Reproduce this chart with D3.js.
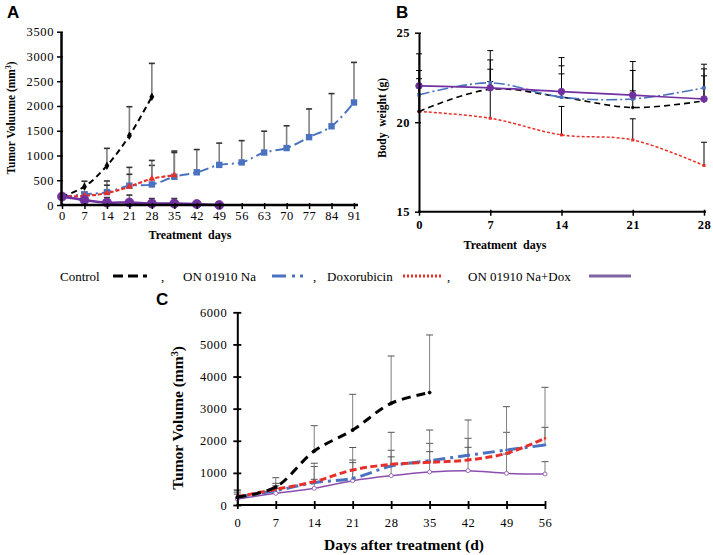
<!DOCTYPE html>
<html><head><meta charset="utf-8">
<script src="https://cdn.jsdelivr.net/npm/d3@7"></script>
<style>
body{margin:0;background:#fff}
svg{display:block}
text{font-family:"Liberation Serif","Times New Roman",serif !important;fill:#000}
text.sans{font-family:"Liberation Sans",Arial,sans-serif !important}
</style>
</head><body>
<svg id="chart" width="713" height="555"></svg>
<script>
// ---------- DATA ----------
const seriesNames = ["Control", "ON 01910 Na", "Doxorubicin", "ON 01910 Na+Dox"];

// Panel A: tumor volume (mm3)
const daysA = [0,7,14,21,28,35,42,49,56,63,70,77,84,91];
const ticksAY = [0,500,1000,1500,2000,2500,3000,3500];
const aControl    = [170, 370, 794, 1400, 2187];
const aControlErr = [30, 110, 350, 585, 673];
const aON         = [165, 215, 260, 390, 415, 570, 660, 810, 860, 1060, 1150, 1370, 1590, 2070];
const aONErr      = [35, 40, 225, 370, 385, 520, 460, 440, 440, 430, 450, 570, 660, 810];
const aDox        = [170, 185, 240, 370, 530, 600];
const aDoxErr     = [20, 40, 160, 250, 370, 460];
const aCombo      = [170, 100, 50, 50, 30, 30, 20, 0];
const aComboErr   = [20, 60, 100, 150, 100, 100, 40, 0];

// Panel B: body weight (g)
const daysB = [0,7,14,21,28];
const ticksBY = [15,20,25];
const bControl    = [20.6, 21.84, 21.4, 20.82, 21.19];
const bControlErr = [2.29, 1.64, 1.75, 0.93, 1.4];
const bON         = [21.53, 22.2, 21.4, 21.3, 21.92];
const bONErr      = [0.4, 1.8, 1.3, 1.59, 1.32];
const bDox        = [20.6, 20.22, 19.29, 19.01, 17.58];
const bDoxErr     = [3.22, 2.74, 1.59, 1.18, 1.3];
const bCombo      = [22.03, 21.92, 21.71, 21.51, 21.3];
const bComboErr   = [0.4, 0.35, 1.9, 1.88, 1.68];

// Panel C: tumor volume (mm3)
const daysC = [0,7,14,21,28,35,42,49,56];
const ticksCY = [0,1000,2000,3000,4000,5000,6000];
const cControl    = [240, 560, 1680, 2335, 3166, 3500];
const cControlErr = [227, 290, 790, 1111, 1474, 1794];
const cON         = [250, 446, 695, 830, 1214, 1380, 1547, 1712, 1868];
const cONErr      = [150, 150, 505, 570, 490, 540, 529, 551, 550];
const cDox        = [260, 488, 727, 1090, 1266, 1329, 1401, 1609, 2076];
const cDoxErr     = [200, 187, 573, 700, 997, 1006, 1246, 1453, 1588];
const cCombo      = [187, 363, 519, 758, 913, 1028, 1069, 986, 965];
const cComboErr   = [150, 150, 281, 562, 587, 633, 727, 600, 385];

// ---------- DRAW ----------
const SERIF = '"Liberation Serif","Times New Roman",serif';
const svg = d3.select("#chart");
svg.append("rect").attr("width",713).attr("height",555).attr("fill","#fff");

function zipSeries(days, vals, errs){ return vals.map((v,i)=>({d:days[i], v, e:errs[i]})); }

function drawAxes(g, x, y, o){
  const ya = g.append("g").attr("transform",`translate(${o.x0},0)`)
    .call(d3.axisLeft(y).tickValues(o.yTicks).tickFormat(d3.format("d"))
      .tickSizeInner(o.tick).tickSizeOuter(0).tickPadding(o.yPad));
  ya.attr("font-family",null);
  ya.select(".domain").attr("stroke","#000").attr("stroke-width",o.axisW);
  ya.selectAll(".tick line").attr("x1",o.tickIn).attr("stroke","#000").attr("stroke-width",o.tickW);
  ya.selectAll("text").style("font-family",SERIF)
    .attr("font-size",o.fs).attr("font-weight",o.fw).style("letter-spacing",o.ls);
  const xa = g.append("g").attr("transform",`translate(0,${o.y0})`)
    .call(d3.axisBottom(x).tickValues(o.xTicks).tickFormat(d3.format("d"))
      .tickSizeInner(o.tick).tickSizeOuter(0).tickPadding(o.xPad));
  xa.attr("font-family",null);
  xa.select(".domain").attr("stroke","#000").attr("stroke-width",o.axisW)
    .attr("d",`M${x.range()[0]-1},0H${o.xEnd}`);
  xa.selectAll(".tick line").attr("y1",-o.tickIn).attr("stroke","#000").attr("stroke-width",o.tickW);
  xa.selectAll("text").style("font-family",SERIF)
    .attr("font-size",o.fs).attr("font-weight",o.fw).style("letter-spacing",o.ls);
}

function drawErr(g, x, y, data, st){
  const eg = g.append("g");
  data.forEach(p=>{
    if(!p.e) return;
    const xx = x(p.d), y1 = y(p.v), y2 = y(p.v+p.e);
    eg.append("line").attr("x1",xx).attr("x2",xx).attr("y1",y1).attr("y2",y2)
      .attr("stroke",st.color).attr("stroke-width",st.w);
    eg.append("line").attr("x1",xx-st.cap).attr("x2",xx+st.cap).attr("y1",y2).attr("y2",y2)
      .attr("stroke",st.capColor).attr("stroke-width",st.w);
  });
}

function drawLine(g, x, y, data, st){
  const line = d3.line().x(p=>x(p.d)).y(p=>y(p.v)).curve(d3.curveCatmullRom.alpha(0.5));
  g.append("path").attr("d",line(data)).attr("fill","none")
    .attr("stroke",st.color).attr("stroke-width",st.w)
    .attr("stroke-dasharray",st.dash||null);
  const mg = g.append("g");
  data.forEach(p=>{
    const cx = x(p.d), cy = y(p.v);
    if(st.marker==="circle"){
      mg.append("circle").attr("cx",cx).attr("cy",cy).attr("r",st.ms)
        .attr("fill",st.mfill||st.color).attr("stroke",st.color).attr("stroke-width",st.mstroke||0.8);
    } else if(st.marker==="square"){
      mg.append("rect").attr("x",cx-st.ms).attr("y",cy-st.ms).attr("width",2*st.ms).attr("height",2*st.ms).attr("fill",st.color);
    } else if(st.marker==="diamond"){
      mg.append("path").attr("d",d3.symbol(d3.symbolDiamond, st.ms*st.ms*2)()).attr("transform",`translate(${cx},${cy})`).attr("fill",st.color);
    } else if(st.marker==="triangle"){
      mg.append("path").attr("d",d3.symbol(d3.symbolTriangle, st.ms*st.ms*2)()).attr("transform",`translate(${cx},${cy})`).attr("fill",st.color);
    }
  });
}

function rotLabel(x0, y0, txt, fs, supText, tail){
  const t = svg.append("text").attr("transform",`translate(${x0},${y0}) rotate(-90)`)
    .attr("text-anchor","middle").attr("font-weight","bold").attr("font-size",fs)
    .attr("xml:space","preserve");
  t.append("tspan").text(txt);
  if(supText){
    t.append("tspan").attr("font-size",fs*0.65).attr("dy",-fs*0.35).text(supText);
    t.append("tspan").attr("dy",fs*0.35).text(tail);
  }
}

const colBlack = "#000", colBlue = "#4a72c0", colRed = "#e8302a", colPurple = "#7030a0";

// ===== Panel A =====
{
  const x = d3.scaleLinear().domain([0,91]).range([62,354]);
  const y = d3.scaleLinear().domain([0,3500]).range([205,31.7]);
  const g = svg.append("g");
  const errSt = {color:"#808080", capColor:"#333", w:1.6, cap:3};
  const sC = zipSeries(daysA, aControl, aControlErr);
  const sO = zipSeries(daysA, aON, aONErr);
  const sD = zipSeries(daysA, aDox, aDoxErr);
  const sM = zipSeries(daysA, aCombo, aComboErr);
  [sC,sO,sD,sM].forEach(s=>drawErr(g,x,y,s,errSt));
  drawLine(g,x,y,sO,{color:colBlue,w:2,dash:"10,4,2,4",marker:"square",ms:3.2});
  drawLine(g,x,y,sD,{color:colRed,w:2.2,dash:"4,2",marker:"triangle",ms:3.2});
  drawLine(g,x,y,sC,{color:colBlack,w:2,dash:"6,4",marker:"diamond",ms:3.2});
  drawLine(g,x,y,sM,{color:colPurple,w:2.5,marker:"circle",ms:4.5});
  drawAxes(g,x,y,{x0:61,y0:205,xEnd:358,yTicks:ticksAY,xTicks:daysA,tick:4,tickIn:2,tickW:1.5,axisW:2.5,
    yPad:3,xPad:2,fs:12.5,fw:"normal",ls:"0.6px"});
  rotLabel(15,118,"Tumor Voluume (mm",11.5,"3",")");
  svg.append("text").attr("x",190).attr("y",239).attr("text-anchor","middle")
    .attr("font-weight","bold").attr("font-size",12).attr("xml:space","preserve").text("Treatment  days");
  svg.append("text").attr("class","sans").attr("x",7).attr("y",18)
    .attr("font-weight","bold").attr("font-size",17).text("A");
}

// ===== Panel B =====
{
  const x = d3.scaleLinear().domain([0,28]).range([419,704]);
  const y = d3.scaleLinear().domain([15,25]).range([211.7,32.7]);
  const g = svg.append("g");
  const errSt = {color:"#000", capColor:"#000", w:1, cap:3};
  const sC = zipSeries(daysB, bControl, bControlErr);
  const sO = zipSeries(daysB, bON, bONErr);
  const sD = zipSeries(daysB, bDox, bDoxErr);
  const sM = zipSeries(daysB, bCombo, bComboErr);
  [sC,sO,sD,sM].forEach(s=>drawErr(g,x,y,s,errSt));
  drawLine(g,x,y,sD,{color:colRed,w:1.5,dash:"3,2",marker:"square",ms:1.5});
  drawLine(g,x,y,sC,{color:colBlack,w:1.6,dash:"6,4",marker:"circle",ms:1.3});
  drawLine(g,x,y,sO,{color:colBlue,w:1.6,dash:"11,3,2,3",marker:"square",ms:1.8});
  drawLine(g,x,y,sM,{color:colPurple,w:1.6,marker:"circle",ms:3.3});
  drawAxes(g,x,y,{x0:419,y0:211.7,xEnd:706,yTicks:ticksBY,xTicks:daysB,tick:4,tickIn:2,tickW:1.5,axisW:2,
    yPad:5,xPad:4,fs:12.5,fw:"bold",ls:"0.5px"});
  rotLabel(386,118,"Body  weight (g)",11.5);
  svg.append("text").attr("x",505).attr("y",249).attr("text-anchor","middle")
    .attr("font-weight","bold").attr("font-size",12).attr("xml:space","preserve").text("Treatment  days");
  svg.append("text").attr("class","sans").attr("x",396).attr("y",18)
    .attr("font-weight","bold").attr("font-size",17).text("B");
}

// ===== Legend =====
{
  const ly = 276;
  const items = [
    {tx:60, name:seriesNames[0], x1:113, x2:157, color:"#000", dash:"10,5,10,5,4", w:3, comma:161},
    {tx:183, name:seriesNames[1], x1:272, x2:307, color:colBlue, dash:"14,6,3,5,3", w:3, comma:313},
    {tx:327, name:seriesNames[2], x1:403, x2:443, color:colRed, dash:"2,2", w:3, comma:447},
    {tx:468, name:seriesNames[3], x1:589, x2:631, color:"#8064a2", dash:null, w:3, comma:null}
  ];
  items.forEach(it=>{
    svg.append("text").attr("x",it.tx).attr("y",ly+4.5).attr("font-size",13).text(it.name);
    svg.append("line").attr("x1",it.x1).attr("x2",it.x2).attr("y1",ly).attr("y2",ly)
      .attr("stroke",it.color).attr("stroke-width",it.w).attr("stroke-dasharray",it.dash);
    if(it.comma) svg.append("text").attr("x",it.comma).attr("y",ly+4.5).attr("font-size",13).text(",");
  });
}

// ===== Panel C =====
{
  const x = d3.scaleLinear().domain([0,56]).range([237.3,545]);
  const y = d3.scaleLinear().domain([0,6000]).range([505,312.3]);
  const g = svg.append("g");
  const errSt = {color:"#7f7f7f", capColor:"#555", w:1, cap:3.5};
  const sC = zipSeries(daysC, cControl, cControlErr);
  const sO = zipSeries(daysC, cON, cONErr);
  const sD = zipSeries(daysC, cDox, cDoxErr);
  const sM = zipSeries(daysC, cCombo, cComboErr);
  [sC,sO,sD,sM].forEach(s=>drawErr(g,x,y,s,errSt));
  drawLine(g,x,y,sM,{color:"#8a4fae",w:1.5,marker:"circle",ms:2,mfill:"#fff",mstroke:0.8});
  drawLine(g,x,y,sO,{color:colBlue,w:3,dash:"12,5,3,5",marker:"square",ms:1.2});
  drawLine(g,x,y,sD,{color:colRed,w:3,dash:"7,3.5",marker:"square",ms:1.2});
  drawLine(g,x,y,sC,{color:"#000",w:3,dash:"9,6",marker:"circle",ms:1.5});
  drawAxes(g,x,y,{x0:237.3,y0:505,xEnd:545,yTicks:ticksCY,xTicks:daysC,tick:4,tickIn:4,tickW:1.8,axisW:2,
    yPad:6,xPad:9,fs:12.5,fw:"normal",ls:"0.6px"});
  rotLabel(183,418,"Tumor Volume (mm",15.5,"3",")");
  svg.append("text").attr("x",404).attr("y",550).attr("text-anchor","middle")
    .attr("font-weight","bold").attr("font-size",15.5).text("Days after treatment (d)");
  svg.append("text").attr("class","sans").attr("x",156).attr("y",305)
    .attr("font-weight","bold").attr("font-size",17).text("C");
}
</script>
</body></html>
